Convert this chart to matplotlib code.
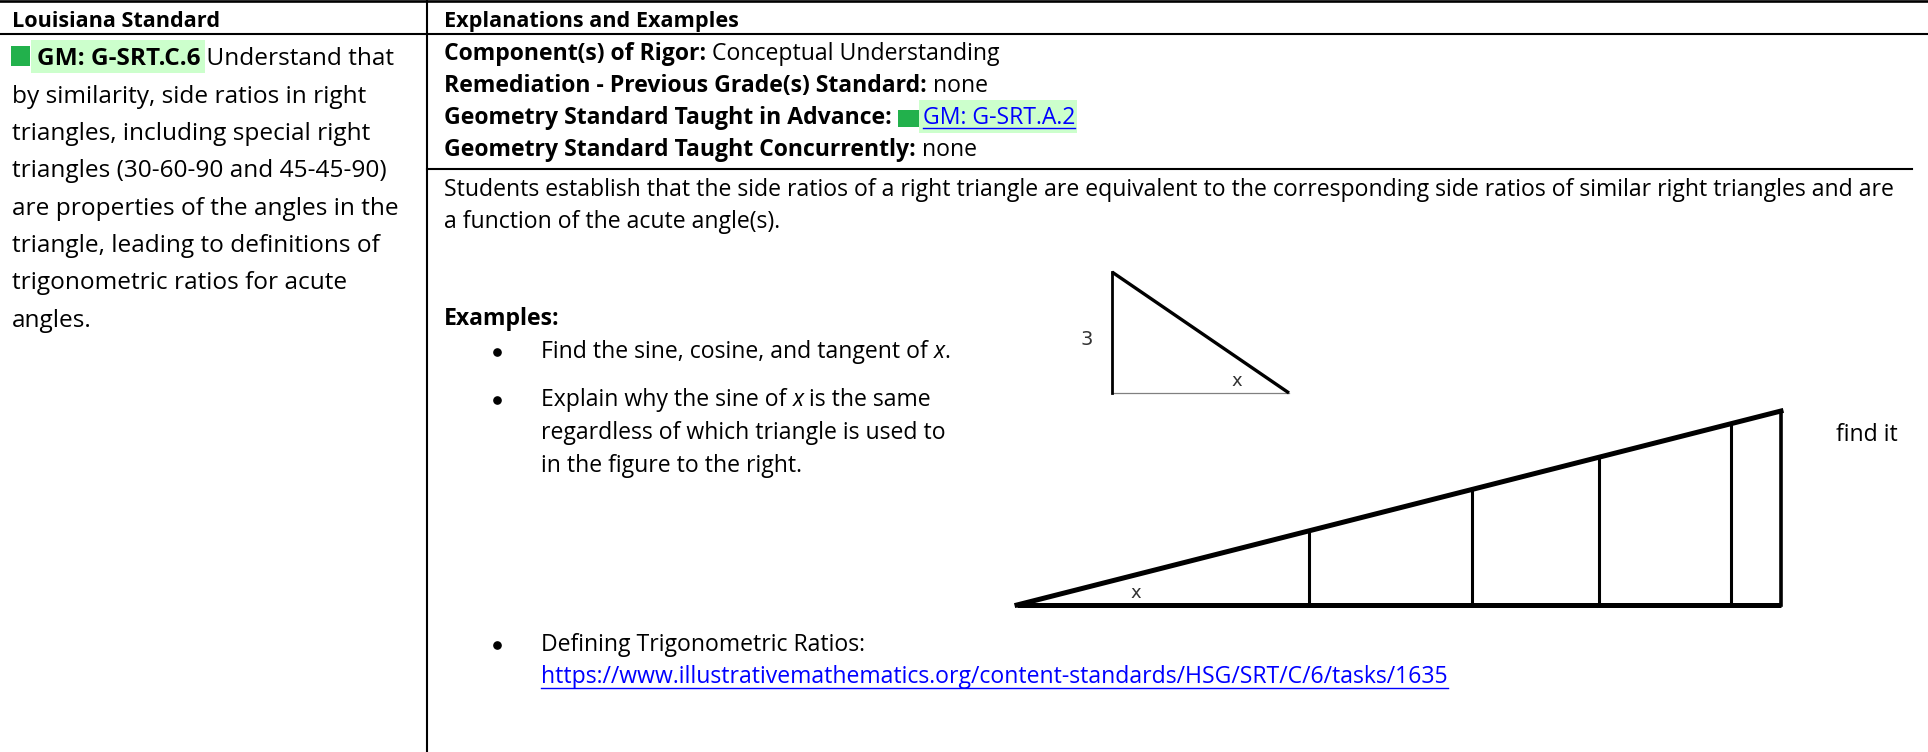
import matplotlib
matplotlib.use("Agg")
import matplotlib.pyplot as plt
from matplotlib.patches import Rectangle

W, H = 1928, 752
FONT = ["Open Sans", "DejaVu Sans"]
BASE = 15.0

# ---------------- content ----------------
left_header = "Louisiana Standard"
right_header = "Explanations and Examples"
left_code = "GM: G-SRT.C.6"
left_lines = [
    " Understand that",
    "by similarity, side ratios in right",
    "triangles, including special right",
    "triangles (30-60-90 and 45-45-90)",
    "are properties of the angles in the",
    "triangle, leading to definitions of",
    "trigonometric ratios for acute",
    "angles.",
]
meta_labels = [
    "Component(s) of Rigor:",
    "Remediation - Previous Grade(s) Standard:",
    "Geometry Standard Taught in Advance:",
    "Geometry Standard Taught Concurrently:",
]
meta_values = [" Conceptual Understanding", " none", "GM: G-SRT.A.2", " none"]
description = [
    "Students establish that the side ratios of a right triangle are equivalent to the corresponding side ratios of similar right triangles and are",
    "a function of the acute angle(s).",
]
examples_title = "Examples:"
url = "https://www.illustrativemathematics.org/content-standards/HSG/SRT/C/6/tasks/1635"

# geometry of the figures (pixel coordinates of the page)
small_tri_x = [1112, 1112, 1289]
small_tri_y = [272, 393, 393]
big_base_x = [1017, 1781]
big_base_y = [605, 605]
big_top_y = 411
big_vert_x = [1309, 1472, 1599, 1731]

# ---------------- figure ----------------
fig = plt.figure(figsize=(W / 100, H / 100), dpi=100)
ax = fig.add_axes([0, 0, 1, 1])
ax.set_xlim(0, W)
ax.set_ylim(H, 0)
ax.axis("off")
renderer = fig.canvas.get_renderer()

GREEN = "#22b14c"
HIGHLIGHT = "#ccffcc"
BLUE = "#0000ff"


def measure(s, size, bold=False):
    t = ax.text(0, 0, s, fontsize=size, fontweight="bold" if bold else "normal", family=FONT)
    w = t.get_window_extent(renderer).width
    t.remove()
    return w


# font sizes fitted to the measured line widths of the page
FS_R = BASE * 1447 / measure(description[0], BASE)
FS_L = BASE * 353 / measure(left_lines[1], BASE)
FS_H = BASE * 209 / measure(left_header, BASE, bold=True)


def put(x, y, s, bold=False, italic=False, color="black", size=None, family=FONT):
    size = FS_R if size is None else size
    t = ax.text(x, y, s, fontsize=size, fontweight="bold" if bold else "normal",
                fontstyle="italic" if italic else "normal", color=color,
                family=family, va="baseline", ha="left")
    bb = t.get_window_extent(renderer)
    return x + bb.width


def runs(x, y, parts):
    for p in parts:
        s = p[0]
        opts = p[1] if len(p) > 1 else {}
        x = put(x, y, s, **opts)
    return x


# borders
ax.plot([0, W], [1.2, 1.2], color="black", lw=1.9)
ax.plot([0, W], [34, 34], color="black", lw=1.5)
ax.plot([427, 427], [0, H], color="black", lw=1.5)
ax.plot([427, 1912], [168.5, 168.5], color="black", lw=1.5)

# headers
put(12, 27, left_header, bold=True, size=FS_H)
put(444, 27, right_header, bold=True, size=FS_H)

# left column
LX = 12
left_base = [65, 103, 140, 177, 215, 252, 289, 327]
ax.add_patch(Rectangle((11, 46), 19, 20, color=GREEN, lw=0))
ax.add_patch(Rectangle((31, 40), 174, 33, color=HIGHLIGHT, lw=0, zorder=0))
xe = put(37, left_base[0], left_code, bold=True, size=FS_L)
put(xe, left_base[0], left_lines[0], size=FS_L)
for yb, s in zip(left_base[1:], left_lines[1:]):
    put(LX, yb, s, size=FS_L)

# right column meta
RX = 444
meta_base = [60, 92, 124, 156]
for i, (lab, val) in enumerate(zip(meta_labels, meta_values)):
    yb = meta_base[i]
    xe = put(RX, yb, lab, bold=True)
    if i == 2:
        sq = xe + 6
        ax.add_patch(Rectangle((sq, yb - 14), 21, 17, color=GREEN, lw=0))
        tx = sq + 25
        te = put(tx, yb, val, color=BLUE)
        ax.add_patch(Rectangle((sq + 21, yb - 24), te - sq - 21 + 2, 33, color=HIGHLIGHT, lw=0, zorder=0))
        ax.plot([tx, te], [yb + 4, yb + 4], color=BLUE, lw=1.0)
    else:
        put(xe, yb, val)

# description
put(RX, 196, description[0])
put(RX, 228, description[1])

# examples
put(RX, 325, examples_title, bold=True)
BX, TX = 497, 541
bullet_base = [358, 406, 651]
for yb in bullet_base:
    ax.plot([BX], [yb - 6], marker="o", ms=5.2, color="black")
runs(TX, 358, [("Find the sine, cosine, and tangent of ",), ("x", {"italic": True}), (".",)])
runs(TX, 406, [("Explain why the sine of ",), ("x", {"italic": True}), (" is the same",)])
put(TX, 439, "regardless of which triangle is used to")
put(TX, 472, "in the figure to the right.")
put(1836, 441, "find it")
put(TX, 651, "Defining Trigonometric Ratios:")
ue = put(TX, 683, url, color=BLUE)
ax.plot([TX, ue], [688, 688], color=BLUE, lw=1.0)

# small triangle
ax.plot(small_tri_x[1:], small_tri_y[1:], color="#808080", lw=0.9)
ax.plot(small_tri_x[:2], small_tri_y[:2], color="black", lw=2.0)
ax.plot([small_tri_x[0], small_tri_x[2]], [small_tri_y[0], small_tri_y[2]], color="black", lw=2.4,
        solid_capstyle="butt")
put(1081, 345, "3", color="#333333", size=14, family=["DejaVu Sans"])
put(1231, 386, "x", color="#333333", size=13, family=["DejaVu Sans"])

# big triangle
slope = (big_base_y[0] - big_top_y) / (big_base_x[1] - big_base_x[0])
ax.plot(big_base_x, big_base_y, color="black", lw=3.6, solid_capstyle="butt")
ax.plot(big_base_x, [big_base_y[0], big_top_y], color="black", lw=3.6)
for vx in big_vert_x:
    ty = big_base_y[0] - slope * (vx - big_base_x[0])
    ax.plot([vx, vx], [ty, big_base_y[0]], color="black", lw=2.2)
ax.plot([big_base_x[1], big_base_x[1]], [big_top_y, big_base_y[0]], color="black", lw=2.6)
put(1130, 598, "x", color="#333333", size=13, family=["DejaVu Sans"])

fig.savefig("out.png", dpi=100, facecolor="white")
